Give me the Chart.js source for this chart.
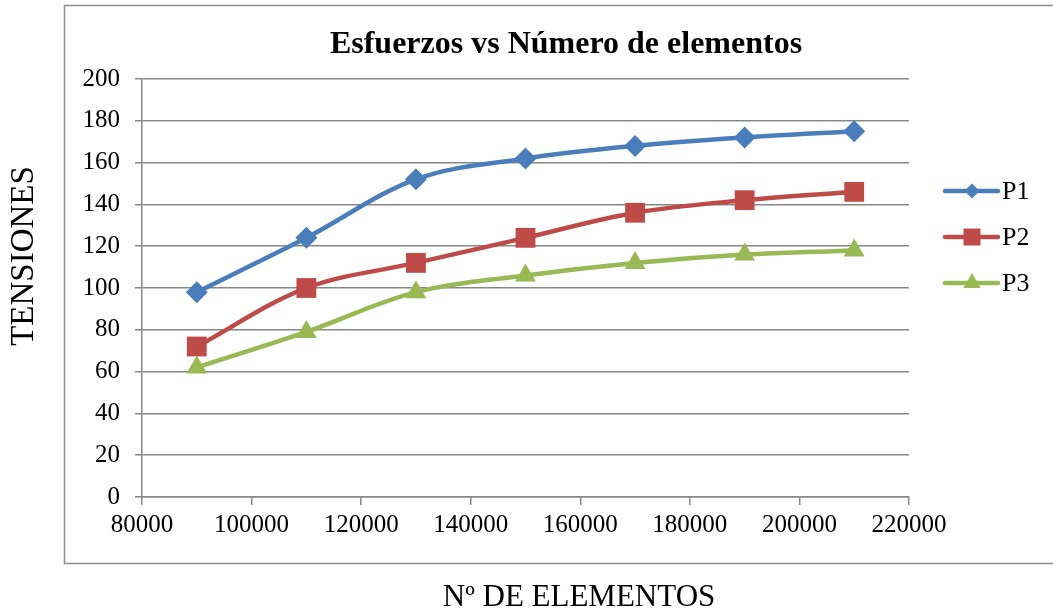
<!DOCTYPE html>
<html>
<head>
<meta charset="utf-8">
<script src="https://cdn.jsdelivr.net/npm/chart.js@4/dist/chart.umd.min.js"></script>
<style>
  html, body { margin: 0; padding: 0; background: #fff; }
  #wrap { width: 1053px; height: 613px; position: relative; }
</style>
</head>
<body>
<div id="wrap"><canvas id="c" width="1053" height="613"></canvas></div>
<script>
// Número de elementos de la malla (eje X)
const elementos = [90000, 110000, 130000, 150000, 170000, 190000, 210000];
// Tensiones en cada punto de control
const tensionP1 = [98, 124, 152, 162, 168, 172, 175];
const tensionP2 = [72, 100, 112, 124, 136, 142, 146];
const tensionP3 = [62, 79, 98, 106, 112, 116, 118];
const seriesNames = ['P1', 'P2', 'P3'];

const chartTitle = 'Esfuerzos vs Número de elementos';
const yTitle = 'TENSIONES';
const xTitle = 'Nº DE ELEMENTOS';

const SERIF = '"Liberation Serif", "Times New Roman", serif';
const GRID = '#878787';

function pts(ys) {
  return elementos.map((x, i) => ({ x: x, y: ys[i] }));
}

const styles = [
  { color: '#4A7EBB', pointStyle: 'rectRot', radius: 11, legendRadius: 7.5 },
  { color: '#BE4B48', pointStyle: 'rect', radius: 14, legendRadius: 12 },
  { color: '#98B954', pointStyle: 'triangle', radius: 12, legendRadius: 10 }
];
const values = [tensionP1, tensionP2, tensionP3];

const datasets = values.map((v, i) => ({
  label: seriesNames[i],
  data: pts(v),
  borderColor: styles[i].color,
  backgroundColor: styles[i].color,
  borderWidth: 4.5,
  pointStyle: styles[i].pointStyle,
  pointRadius: styles[i].radius,
  pointHoverRadius: styles[i].radius,
  pointBorderWidth: 0,
  tension: 0.35,
  fill: false
}));

// Marco exterior, títulos y leyenda
const decor = {
  id: 'decor',
  afterDraw(chart) {
    const ctx = chart.ctx;
    ctx.save();
    // marco del gráfico
    ctx.strokeStyle = '#8c8c8c';
    ctx.lineWidth = 1.5;
    ctx.beginPath();
    ctx.moveTo(1060, 5.5);
    ctx.lineTo(64.5, 5.5);
    ctx.lineTo(64.5, 563.5);
    ctx.lineTo(1060, 563.5);
    ctx.stroke();

    ctx.fillStyle = '#000';
    ctx.textAlign = 'center';
    ctx.textBaseline = 'middle';
    // título
    ctx.font = 'bold 32px ' + SERIF;
    ctx.fillText(chartTitle, 566, 45);
    // título eje X
    ctx.font = '31px ' + SERIF;
    ctx.fillText(xTitle, 579, 598);
    // título eje Y
    ctx.save();
    ctx.translate(24, 256);
    ctx.rotate(-Math.PI / 2);
    ctx.font = '33px ' + SERIF;
    ctx.fillText(yTitle, 0, 0);
    ctx.restore();

    // leyenda
    const rows = [191, 237, 283];
    chart.data.datasets.forEach((ds, i) => {
      const y = rows[i];
      ctx.strokeStyle = ds.borderColor;
      ctx.lineWidth = 4.5;
      ctx.lineCap = 'round';
      ctx.beginPath();
      ctx.moveTo(945, y);
      ctx.lineTo(998, y);
      ctx.stroke();
      ctx.fillStyle = ds.backgroundColor;
      Chart.helpers.drawPoint(ctx, {
        pointStyle: ds.pointStyle,
        radius: styles[i].legendRadius,
        rotation: 0,
        borderWidth: 0
      }, 972, y);
      ctx.fillStyle = '#000';
      ctx.textAlign = 'left';
      ctx.font = '26px ' + SERIF;
      ctx.fillText(ds.label, 1002, y + 1);
    });
    ctx.restore();
  }
};

new Chart(document.getElementById('c'), {
  type: 'line',
  data: { datasets: datasets },
  options: {
    responsive: false,
    devicePixelRatio: 1,
    animation: false,
    events: [],
    layout: { padding: { left: 0, top: 79, right: 144, bottom: 0 } },
    plugins: {
      legend: { display: false },
      title: { display: false },
      tooltip: { enabled: false }
    },
    scales: {
      x: {
        type: 'linear',
        min: 80000,
        max: 220000,
        afterFit(scale) { scale.height = 116; },
        ticks: {
          stepSize: 20000,
          color: '#000',
          padding: 5,
          maxRotation: 0,
          font: { family: SERIF, size: 25 },
          callback: (v) => String(v)
        },
        grid: {
          drawOnChartArea: false,
          drawTicks: true,
          tickLength: 8,
          color: GRID,
          lineWidth: 1.5
        },
        border: { color: GRID, width: 1.5 }
      },
      y: {
        min: 0,
        max: 200,
        afterFit(scale) { scale.width = 142; },
        ticks: {
          stepSize: 20,
          color: '#000',
          padding: 15,
          font: { family: SERIF, size: 25 }
        },
        grid: {
          color: GRID,
          lineWidth: 1.5,
          drawTicks: true,
          tickLength: 7
        },
        border: { color: GRID, width: 1.5 }
      }
    }
  },
  plugins: [decor]
});
</script>
</body>
</html>
